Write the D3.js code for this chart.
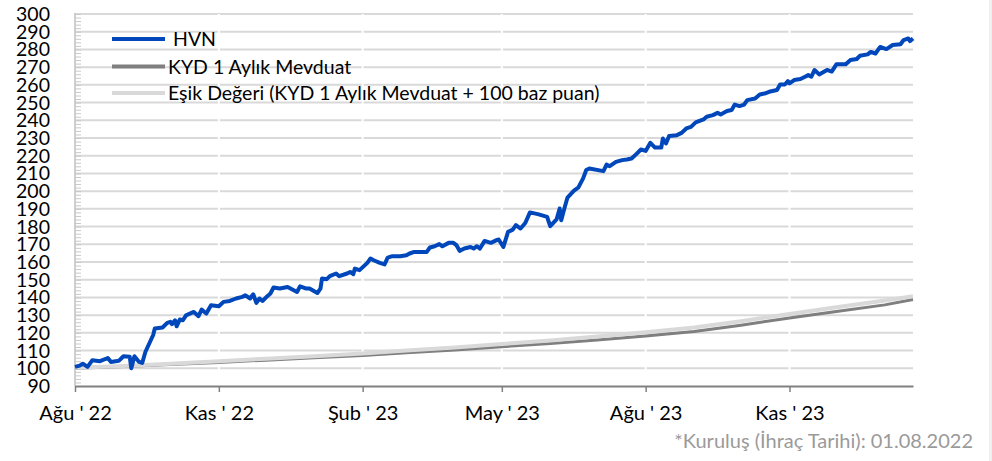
<!DOCTYPE html>
<html>
<head>
<meta charset="utf-8">
<script src="https://cdn.jsdelivr.net/npm/d3@7.9.0/dist/d3.min.js"></script>
<style>
  html, body { margin: 0; padding: 0; background: #fff; }
  svg { display: block; font-family: Lato, "Open Sans", sans-serif; }
</style>
</head>
<body>
<svg id="chart" width="992" height="461"></svg>
<script>
// ---- data ----
const hvnDates = [
  "2022-08-01","2022-08-04","2022-08-06","2022-08-09","2022-08-12","2022-08-17","2022-08-22","2022-08-24","2022-08-29",
  "2022-09-01","2022-09-05","2022-09-06","2022-09-08","2022-09-11","2022-09-13","2022-09-15","2022-09-20","2022-09-21",
  "2022-09-26","2022-09-29","2022-10-01","2022-10-02","2022-10-04","2022-10-05","2022-10-07","2022-10-09","2022-10-11",
  "2022-10-16","2022-10-19","2022-10-21","2022-10-24","2022-10-27","2022-11-01","2022-11-04","2022-11-08","2022-11-12",
  "2022-11-16","2022-11-18","2022-11-21","2022-11-23","2022-11-25","2022-11-27","2022-11-29","2022-12-02","2022-12-04",
  "2022-12-06","2022-12-10","2022-12-15","2022-12-21","2022-12-23","2022-12-27","2022-12-29","2023-01-03","2023-01-05",
  "2023-01-06","2023-01-09","2023-01-11","2023-01-15","2023-01-17","2023-01-22","2023-01-24","2023-01-26","2023-01-27",
  "2023-01-30","2023-02-04","2023-02-06","2023-02-08","2023-02-12","2023-02-15","2023-02-17","2023-02-20","2023-02-25",
  "2023-03-01","2023-03-03","2023-03-06","2023-03-14","2023-03-16","2023-03-19","2023-03-22","2023-03-24","2023-03-28",
  "2023-03-31","2023-04-02","2023-04-04","2023-04-07","2023-04-11","2023-04-13","2023-04-15","2023-04-17","2023-04-20",
  "2023-04-24","2023-04-28","2023-04-29","2023-05-02","2023-05-05","2023-05-08","2023-05-10","2023-05-13","2023-05-16",
  "2023-05-19","2023-05-24","2023-05-30","2023-05-31","2023-06-01","2023-06-05","2023-06-07","2023-06-08","2023-06-10",
  "2023-06-12","2023-06-16","2023-06-19","2023-06-22","2023-06-24","2023-06-26","2023-07-05","2023-07-07","2023-07-09",
  "2023-07-13","2023-07-17","2023-07-20","2023-07-23","2023-07-26","2023-07-29","2023-08-01","2023-08-04","2023-08-07",
  "2023-08-11","2023-08-12","2023-08-14","2023-08-16","2023-08-21","2023-08-24","2023-08-27","2023-08-30","2023-09-02",
  "2023-09-07","2023-09-09","2023-09-13","2023-09-16","2023-09-18","2023-09-22","2023-09-25","2023-09-27","2023-09-30",
  "2023-10-03","2023-10-05","2023-10-10","2023-10-13","2023-10-16","2023-10-19","2023-10-24","2023-10-26","2023-10-29",
  "2023-10-31","2023-11-01","2023-11-04","2023-11-08","2023-11-11","2023-11-13","2023-11-15","2023-11-17","2023-11-20",
  "2023-11-25","2023-11-28","2023-12-01","2023-12-07","2023-12-10","2023-12-14","2023-12-16","2023-12-21","2023-12-23",
  "2023-12-26","2023-12-29","2024-01-02","2024-01-06","2024-01-11","2024-01-13","2024-01-16","2024-01-17","2024-01-19"
];
const hvnValues = [
  100.8,101.5,102.6,100.8,104.5,104.0,105.8,103.6,104.2,
  106.8,106.5,100.0,106.8,103.6,103.0,109.2,118.8,122.4,
  123.0,125.6,126.2,124.9,127.1,123.7,127.5,127.1,129.9,
  131.8,129.4,133.1,130.9,135.6,135.0,137.5,138.0,139.4,
  140.3,141.2,139.4,141.8,136.9,139.4,138.0,140.7,142.2,
  145.6,145.0,145.9,143.1,146.3,145.0,145.0,142.5,145.0,
  150.7,150.3,152.0,153.5,152.0,153.5,154.4,153.1,156.3,
  155.4,159.5,162.0,161.0,159.5,158.6,162.5,163.3,163.3,
  163.8,164.8,165.7,165.7,168.2,168.9,170.1,168.9,170.8,
  170.8,169.5,166.3,167.6,168.5,167.6,168.9,167.6,171.9,
  170.8,172.5,172.7,168.5,177.0,178.3,180.8,178.9,182.0,
  188.0,187.0,185.5,182.7,180.2,184.0,190.2,183.6,190.2,
  196.4,200.2,202.1,207.2,211.9,212.8,211.3,215.0,214.1,
  216.5,217.5,217.9,218.4,220.9,223.5,222.7,227.3,224.6,
  224.6,229.7,226.9,231.1,231.6,232.9,235.4,236.3,238.8,
  240.5,242.0,242.9,244.2,243.3,245.2,245.8,248.9,248.0,
  248.9,251.4,252.3,254.6,255.1,256.1,257.1,260.2,260.2,
  262.1,260.8,262.7,263.3,264.6,265.5,264.6,268.4,265.9,
  268.4,267.5,271.6,271.6,274.0,274.6,276.4,277.2,278.6,
  277.7,281.4,280.2,282.5,282.9,285.3,286.2,284.7,286.2
];

const refDates = [
  "2022-08-01","2022-09-01","2022-10-01","2022-11-01","2022-12-01","2023-01-01","2023-02-01","2023-03-01","2023-04-01",
  "2023-05-01","2023-06-01","2023-07-01","2023-08-01","2023-09-01","2023-10-01","2023-11-01","2023-12-01","2024-01-01","2024-01-19"
];
const kydValues = [100.0,101.0,102.1,103.3,104.6,105.9,107.2,108.7,110.3,112.2,114.0,116.0,118.2,120.8,124.3,128.4,132.0,135.8,138.8];
const esikValues = [100.3,101.3,102.6,104.0,105.4,106.8,108.4,110.0,111.7,113.7,115.7,117.9,120.3,123.0,126.6,130.6,134.4,138.3,140.7];

const seriesNames = ["HVN", "KYD 1 Aylık Mevduat", "Eşik Değeri (KYD 1 Aylık Mevduat + 100 baz puan)"];
const seriesColors = ["#0047bb", "#7f7f7f", "#d9d9d9"];

const yTicks = [90,100,110,120,130,140,150,160,170,180,190,200,210,220,230,240,250,260,270,280,290,300];
const xTickDates = ["2022-08-01","2022-11-01","2023-02-01","2023-05-01","2023-08-01","2023-11-01"];
const xTickLabels = ["Ağu ' 22","Kas ' 22","Şub ' 23","May ' 23","Ağu ' 23","Kas ' 23"];
const note = "*Kuruluş (İhraç Tarihi): 01.08.2022";

// ---- setup ----
const parse = d3.timeParse("%Y-%m-%d");
const svg = d3.select("#chart");

const x = d3.scaleTime()
  .domain([parse("2022-08-01"), parse("2024-01-19")])
  .range([75, 913]);
const y = d3.scaleLinear()
  .domain([90, 300])
  .range([386, 14]);

const hvn = hvnDates.map((d, i) => ({ date: parse(d), value: hvnValues[i] }));
const kyd = refDates.map((d, i) => ({ date: parse(d), value: kydValues[i] }));
const esik = refDates.map((d, i) => ({ date: parse(d), value: esikValues[i] }));

// horizontal gridlines
svg.append("g")
  .selectAll("line")
  .data(yTicks.filter(v => v > 90))
  .enter().append("line")
  .attr("x1", 75).attr("x2", 913)
  .attr("y1", d => y(d)).attr("y2", d => y(d))
  .attr("stroke", "#d9d9d9")
  .attr("stroke-width", 2);

// white vertical gridlines at month ticks
svg.append("g")
  .selectAll("line")
  .data(xTickDates.slice(1))
  .enter().append("line")
  .attr("x1", d => x(parse(d))).attr("x2", d => x(parse(d)))
  .attr("y1", 14).attr("y2", 386)
  .attr("stroke", "#fff")
  .attr("stroke-width", 2);

// y axis with minor ticks
svg.append("line")
  .attr("x1", 75).attr("x2", 75).attr("y1", 13).attr("y2", 386)
  .attr("stroke", "#bfbfbf").attr("stroke-width", 1.5);
svg.append("g")
  .selectAll("line")
  .data(d3.range(90, 301, 2))
  .enter().append("line")
  .attr("x1", 75).attr("x2", 81)
  .attr("y1", d => y(d) + 0.5).attr("y2", d => y(d) + 0.5)
  .attr("stroke", "#c8c8c8").attr("stroke-width", 1);

const yAxis = svg.append("g")
  .attr("transform", "translate(75,0)")
  .call(d3.axisLeft(y).tickValues(yTicks).tickSize(0).tickPadding(25));
yAxis.select(".domain").remove();
yAxis.selectAll("text")
  .attr("font-family", "Lato, sans-serif")
  .attr("font-size", 19.5)
  .attr("fill", "#000")
  .attr("dy", "0.33em");

// x axis
const xAxis = svg.append("g")
  .attr("transform", "translate(0,386)")
  .call(d3.axisBottom(x)
    .tickValues(xTickDates.map(parse))
    .tickFormat((d, i) => xTickLabels[i])
    .tickSize(6)
    .tickSizeOuter(0));
xAxis.select(".domain").attr("stroke", "#808080").attr("stroke-width", 2);
xAxis.selectAll(".tick line").attr("stroke", "#808080").attr("stroke-width", 1.5);
xAxis.selectAll("text")
  .attr("font-family", "Lato, sans-serif")
  .attr("font-size", 20)
  .attr("fill", "#000")
  .attr("y", 34)
  .attr("dy", 0);

// series
const line = d3.line().x(d => x(d.date)).y(d => y(d.value));

svg.append("path").datum(kyd)
  .attr("fill", "none").attr("stroke", seriesColors[1])
  .attr("stroke-width", 3).attr("d", line);
svg.append("path").datum(esik)
  .attr("fill", "none").attr("stroke", seriesColors[2])
  .attr("stroke-width", 4).attr("d", line);
svg.append("path").datum(hvn)
  .attr("fill", "none").attr("stroke", seriesColors[0])
  .attr("stroke-width", 4).attr("stroke-linejoin", "round")
  .attr("d", line);

// legend
const legendY = [39, 66.5, 93];
const legendTextX = [173, 168, 168];
const legend = svg.append("g")
  .selectAll("g")
  .data(seriesNames)
  .enter().append("g");
legend.append("line")
  .attr("x1", 112).attr("x2", 165)
  .attr("y1", (d, i) => legendY[i]).attr("y2", (d, i) => legendY[i])
  .attr("stroke", (d, i) => seriesColors[i])
  .attr("stroke-width", 4);
legend.append("text")
  .attr("x", (d, i) => legendTextX[i])
  .attr("y", (d, i) => legendY[i] + 7)
  .attr("font-size", 19.5)
  .attr("fill", "#000")
  .text(d => d);

// footnote
svg.append("text")
  .attr("x", 973).attr("y", 448)
  .attr("text-anchor", "end")
  .attr("font-size", 20)
  .attr("fill", "#9a9a9a")
  .text(note);

// right edge strip
svg.append("rect")
  .attr("x", 989).attr("y", 0).attr("width", 3).attr("height", 461)
  .attr("fill", "#f0f0f0");
</script>
</body>
</html>
